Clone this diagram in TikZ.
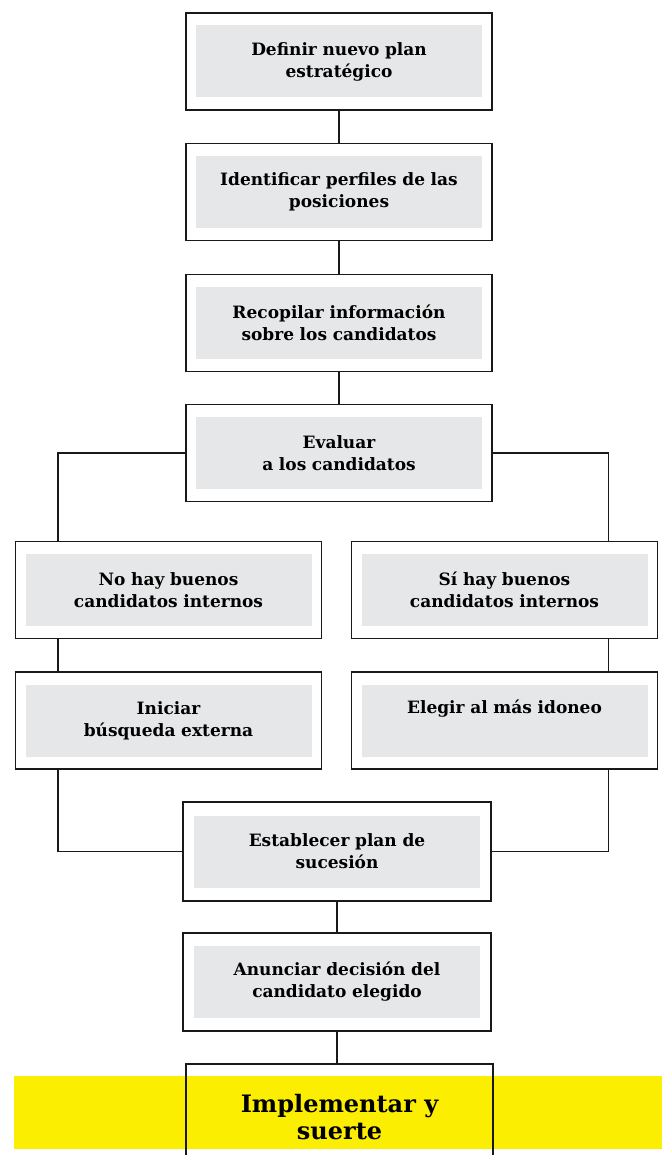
\documentclass[tikz,border=0pt]{standalone}
\usepackage{fontspec}
\setmainfont{DejaVu Serif}
\definecolor{boxgray}{RGB}{230,231,232}
\definecolor{bandyellow}{RGB}{252,238,0}
\tikzset{
  stepbox/.style={draw=black!90, line width=1.8pt, minimum width=306pt, minimum height=97pt, inner sep=0pt},
  steptext/.style={fill=boxgray, minimum width=286pt, minimum height=72pt, text width=284pt, align=center, inner sep=0pt, font=\bfseries\fontsize{17}{22}\selectfont},
  link/.style={draw=black!90, line width=1.8pt},
}
\begin{document}
\begin{tikzpicture}[x=1pt, y=-1pt]
	\useasboundingbox (0,0) rectangle (662,1155);
	% main column
	\node[stepbox] (plan) at (339,61.5) {};
	\node[steptext] at (plan) {Definir nuevo plan\\ estratégico};
	\node[stepbox] (perfil) at (339,192) {};
	\node[steptext] at (perfil) {Identificar perfiles de las\\ posiciones};
	\node[stepbox] (recop) at (339,323) {};
	\node[steptext] at (recop) {Recopilar información\\ sobre los candidatos};
	\node[stepbox] (evalua) at (339,453) {};
	\node[steptext] at (evalua) {Evaluar\\ a los candidatos};
	% two branches
	\node[stepbox] (nohay) at (168.5,590) {};
	\node[steptext] at (nohay) {No hay buenos\\ candidatos internos};
	\node[stepbox] (externa) at (168.5,720.5) {};
	\node[steptext] at (externa) {Iniciar\\ búsqueda externa};
	\node[stepbox] (sihay) at (504.5,590) {};
	\node[steptext] at (sihay) {Sí hay buenos\\ candidatos internos};
	\node[stepbox] (idoneo) at (504.5,720.5) {};
	\node[steptext] at (idoneo) {Elegir al más idoneo\\ \strut};
	% back together
	\node[stepbox, minimum width=308pt, minimum height=99pt] (sucesion) at (337,851.5) {};
	\node[steptext] at (sucesion) {Establecer plan de\\ sucesión};
	\node[stepbox, minimum width=308pt, minimum height=98pt] (anuncia) at (337,982) {};
	\node[steptext] at (anuncia) {Anunciar decisión del\\ candidato elegido};
	% yellow band
	\fill[bandyellow] (14,1076) rectangle (662,1149);
	\node[stepbox, minimum width=307pt, minimum height=100pt, anchor=north] (impl) at (339.5,1063) {};
	\node[align=center, font=\bfseries\fontsize{24}{27}\selectfont] at (339.5,1117) {Implementar y\\ suerte};
	% connectors
	\draw[link] (plan) -- (perfil);
	\draw[link] (perfil) -- (recop);
	\draw[link] (recop) -- (evalua);
	\draw[link] (evalua.west) -| ([xshift=43pt]nohay.north west);
	\draw[link] (evalua.east) -| ([xshift=-50pt]sihay.north east);
	\draw[link] ([xshift=43pt]nohay.south west) -- ([xshift=43pt]externa.north west);
	\draw[link] ([xshift=-50pt]sihay.south east) -- ([xshift=-50pt]idoneo.north east);
	\draw[link] ([xshift=43pt]externa.south west) |- (sucesion.west);
	\draw[link] ([xshift=-50pt]idoneo.south east) |- (sucesion.east);
	\draw[link] (sucesion) -- (anuncia);
	\draw[link] (anuncia.south) -- (anuncia.south |- impl.north);
\end{tikzpicture}
\end{document}
